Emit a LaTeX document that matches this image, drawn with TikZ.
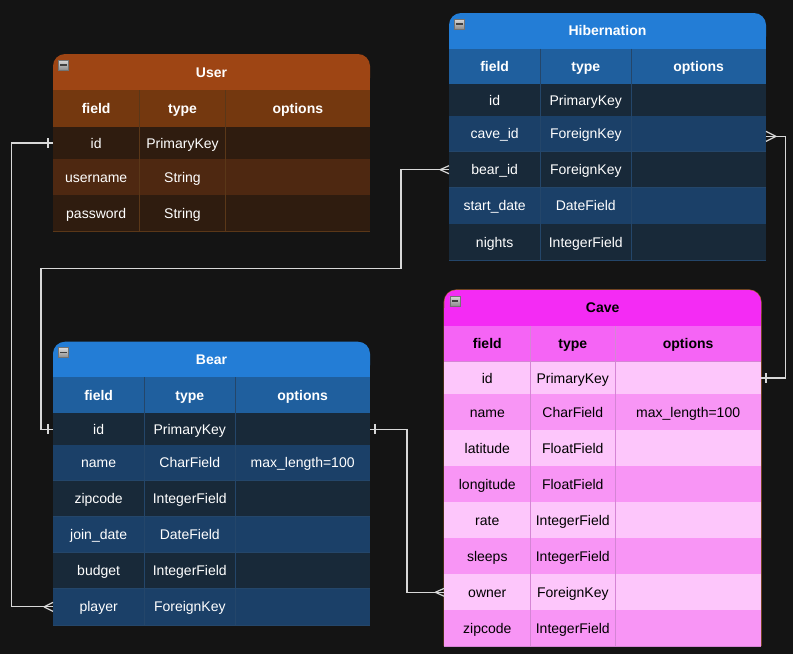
\documentclass[tikz,border=0pt]{standalone}
\usepackage{fontspec}
\setmainfont{Liberation Sans}
\definecolor{bg}{HTML}{141414}
\definecolor{linecol}{HTML}{D8D8D8}
\definecolor{uTitle}{HTML}{9E4514}
\definecolor{uHead}{HTML}{74380F}
\definecolor{uDark}{HTML}{2F1C0F}
\definecolor{uLight}{HTML}{4E2811}
\definecolor{uGrid}{HTML}{5A3718}
\definecolor{bTitle}{HTML}{237DD6}
\definecolor{bHead}{HTML}{1F5F9E}
\definecolor{bDark}{HTML}{182939}
\definecolor{bLight}{HTML}{1B4068}
\definecolor{bGrid}{HTML}{24466A}
\definecolor{cTitle}{HTML}{F42BF4}
\definecolor{cHead}{HTML}{F564F5}
\definecolor{cLight}{HTML}{FDC6FB}
\definecolor{cMid}{HTML}{F895F5}
\definecolor{cGrid}{HTML}{D585D5}
\definecolor{cEdge}{HTML}{A5602A}
\tikzset{
  celltext/.style={font=\fontsize{14}{16}\selectfont, inner sep=0pt, text height=11pt, text depth=1pt},
  headtext/.style={font=\fontsize{14}{16}\selectfont\bfseries, inner sep=0pt, text height=11pt, text depth=1pt},
  rowbox/.style={inner sep=0pt, outer sep=0pt, anchor=north west, draw=none},
  titlebox/.style={inner sep=0pt, outer sep=0pt, anchor=north west, draw=none, rounded corners=12pt},
  conn/.style={draw=linecol, line width=1.2pt},
  collapse/.style={minimum size=10pt, inner sep=0pt, draw=black!55, line width=0.6pt, top color=white!85!black, bottom color=white!55!black},
}
\newcommand{\erow}[8]{%
  \node[rowbox, fill=#4, minimum width={\xd-\xa}, minimum height={#3-#2}] (#1) at (\xa,#2) {};
  \draw[draw=\gridcol, line width=0.8pt] (\xb,#2) -- (\xb,#3) (\xc,#2) -- (\xc,#3) (\xa,#3) -- (\xd,#3);
  \node[#8, text=\txtcol] (#1-a) at ({(\xa+\xb)/2},{(#2+#3)/2}) {#5};
  \node[#8, text=\txtcol] (#1-b) at ({(\xb+\xc)/2},{(#2+#3)/2}) {#6};
  \node[#8, text=\txtcol] (#1-c) at ({(\xc+\xd)/2},{(#2+#3)/2}) {#7};
}
\newcommand{\etitle}[5]{% name, ytop, ybot, fill, text
  \node[titlebox, fill=#4, minimum width={\xd-\xa}, minimum height={#3-#2}] (#1) at (\xa,#2) {};
  \fill[#4] (\xa,{(#2+#3)/2}) rectangle (\xd,#3);
  \node[headtext, text=\txtcol] (#1-t) at ({(\xa+\xd)/2},{(#2+#3)/2}) {#5};
  \node[collapse] (#1-icon) at ({\xa+10.5},{#2+11}) {};
  \draw[black!75, line width=1.4pt] ([xshift=2pt]#1-icon.west) -- ([xshift=-2pt]#1-icon.east);
}
\begin{document}
\begin{tikzpicture}[x=1pt,y=-1pt]
\fill[bg] (0,0) rectangle (793,654);
\useasboundingbox (0,0) rectangle (793,654);

% ---------------- User
\def\xa{53}\def\xb{139.3}\def\xc{225.7}\def\xd{370}
\def\gridcol{uGrid}\def\txtcol{white}
\etitle{user}{54}{90}{uTitle}{User}
\erow{user-head}{90}{127}{uHead}{field}{type}{options}{headtext}
\erow{user-id}{127}{159}{uDark}{id}{PrimaryKey}{}{celltext}
\erow{user-username}{159}{195}{uLight}{username}{String}{}{celltext}
\erow{user-password}{195}{231}{uDark}{password}{String}{}{celltext}

% ---------------- Hibernation
\def\xa{449}\def\xb{540.3}\def\xc{631.3}\def\xd{766}
\def\gridcol{bGrid}\def\txtcol{white}
\etitle{hib}{13}{48.5}{bTitle}{Hibernation}
\erow{hib-head}{48.5}{84.3}{bHead}{field}{type}{options}{headtext}
\erow{hib-id}{84.3}{116}{bDark}{id}{PrimaryKey}{}{celltext}
\erow{hib-caveid}{116}{151.7}{bLight}{cave\_id}{ForeignKey}{}{celltext}
\erow{hib-bearid}{151.7}{187.7}{bDark}{bear\_id}{ForeignKey}{}{celltext}
\erow{hib-start}{187.7}{224}{bLight}{start\_date}{DateField}{}{celltext}
\erow{hib-nights}{224}{260}{bDark}{nights}{IntegerField}{}{celltext}

% ---------------- Cave
\def\xa{444.3}\def\xb{530.3}\def\xc{615.3}\def\xd{761}
\def\gridcol{cGrid}\def\txtcol{black}
\draw[cEdge, line width=1.2pt, rounded corners=12pt] (\xa,646) -- (\xa,290) -- (\xd,290) -- (\xd,646);
\etitle{cave}{290}{325.7}{cTitle}{Cave}
\erow{cave-head}{325.7}{361.7}{cHead}{field}{type}{options}{headtext}
\erow{cave-id}{361.7}{394.3}{cLight}{id}{PrimaryKey}{}{celltext}
\erow{cave-name}{394.3}{430}{cMid}{name}{CharField}{max\_length=100}{celltext}
\erow{cave-lat}{430}{466}{cLight}{latitude}{FloatField}{}{celltext}
\erow{cave-lon}{466}{502.3}{cMid}{longitude}{FloatField}{}{celltext}
\erow{cave-rate}{502.3}{538.3}{cLight}{rate}{IntegerField}{}{celltext}
\erow{cave-sleeps}{538.3}{574.3}{cMid}{sleeps}{IntegerField}{}{celltext}
\erow{cave-owner}{574.3}{610.3}{cLight}{owner}{ForeignKey}{}{celltext}
\erow{cave-zip}{610.3}{646}{cMid}{zipcode}{IntegerField}{}{celltext}

% ---------------- Bear
\def\xa{53}\def\xb{144.3}\def\xc{235.3}\def\xd{370}
\def\gridcol{bGrid}\def\txtcol{white}
\etitle{bear}{341.7}{377.3}{bTitle}{Bear}
\erow{bear-head}{377.3}{413.3}{bHead}{field}{type}{options}{headtext}
\erow{bear-id}{413.3}{445}{bDark}{id}{PrimaryKey}{}{celltext}
\erow{bear-name}{445}{480.7}{bLight}{name}{CharField}{max\_length=100}{celltext}
\erow{bear-zip}{480.7}{516.7}{bDark}{zipcode}{IntegerField}{}{celltext}
\erow{bear-join}{516.7}{552.7}{bLight}{join\_date}{DateField}{}{celltext}
\erow{bear-budget}{552.7}{588.7}{bDark}{budget}{IntegerField}{}{celltext}
\erow{bear-player}{588.7}{625}{bLight}{player}{ForeignKey}{}{celltext}

% ---------------- Connectors
\coordinate (bend2) at (401,268.5);
% User.id -> Bear.player
\draw[conn] (user-id.west) -- ++(-41.3,0) |- (bear-player.west);
\draw[conn] ([xshift=-5pt]user-id.west) ++(0,-5) -- ++(0,10);
\draw[conn] ([xshift=-9pt]bear-player.west) -- ([yshift=4.5pt]bear-player.west)
            ([xshift=-9pt]bear-player.west) -- ([yshift=-4.5pt]bear-player.west);
% Bear.id -> Hibernation.bear_id
\draw[conn] (bear-id.west) -- ++(-12,0) |- (bend2) |- (hib-bearid.west);
\draw[conn] ([xshift=-5pt]bear-id.west) ++(0,-5) -- ++(0,10);
\draw[conn] ([xshift=-9pt]hib-bearid.west) -- ([yshift=4pt]hib-bearid.west)
            ([xshift=-9pt]hib-bearid.west) -- ([yshift=-4pt]hib-bearid.west);
% Cave.id -> Hibernation.cave_id
\draw[conn] (cave-id.east) -- ++(24.5,0) |- ([yshift=-2.5pt]hib-caveid.east);
\draw[conn] ([xshift=5pt]cave-id.east) ++(0,-5) -- ++(0,10);
\draw[conn] ([xshift=10pt,yshift=-2.5pt]hib-caveid.east) -- ([yshift=2.5pt]hib-caveid.east)
            ([xshift=10pt,yshift=-2.5pt]hib-caveid.east) -- ([yshift=-7.5pt]hib-caveid.east);
% Bear.id -> Cave.owner
\draw[conn] (bear-id.east) -- ++(37,0) |- (cave-owner.west);
\draw[conn] ([xshift=5pt]bear-id.east) ++(0,-5) -- ++(0,10);
\draw[conn] ([xshift=-9pt]cave-owner.west) -- ([yshift=4pt]cave-owner.west)
            ([xshift=-9pt]cave-owner.west) -- ([yshift=-4pt]cave-owner.west);
\end{tikzpicture}
\end{document}
